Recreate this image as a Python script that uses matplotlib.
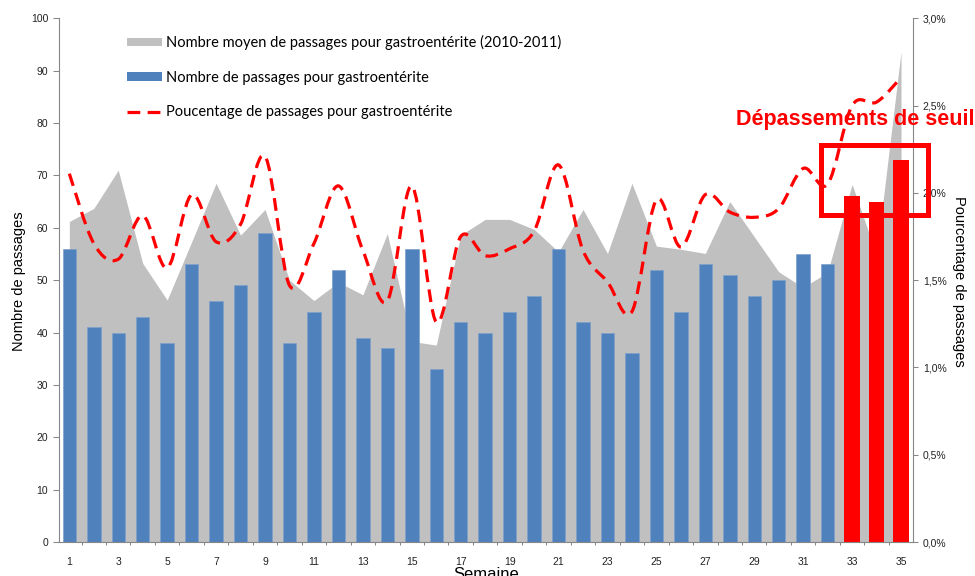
import numpy as np
import matplotlib.pyplot as plt
from matplotlib.patches import Patch, PathPatch, Rectangle
from matplotlib.path import Path
from matplotlib.lines import Line2D
from matplotlib.ticker import FuncFormatter, MultipleLocator

plt.rcParams['font.family'] = ['Liberation Sans', 'DejaVu Sans']

# data
weeks = list(range(1, 36))
passages = [56, 41, 40, 43, 38, 53, 46, 49, 59, 38, 44, 52, 39, 37, 56, 33, 42, 40,
            44, 47, 56, 42, 40, 36, 52, 44, 53, 51, 47, 50, 55, 53, 66, 65, 73]
moyenne = [61.2, 63.7, 71.0, 53.2, 46.2, 57.3, 68.5, 58.6, 63.5, 50.0, 46.1, 49.6,
           47.2, 58.9, 38.3, 37.6, 58.6, 61.6, 61.6, 59.7, 55.4, 63.5, 55.1, 68.5,
           56.5, 55.9, 55.1, 65.0, 58.3, 51.6, 48.6, 51.5, 68.3, 54.8, 93.6]
pourcentage = [2.11, 1.71, 1.62, 1.87, 1.57, 1.99, 1.72, 1.82, 2.21, 1.47, 1.71, 2.04,
               1.67, 1.38, 2.04, 1.26, 1.75, 1.64, 1.68, 1.78, 2.16, 1.67, 1.49, 1.32,
               1.96, 1.69, 1.99, 1.89, 1.86, 1.91, 2.14, 2.05, 2.50, 2.52, 2.66]
seuil_weeks = [33, 34, 35]

BLUE = '#4F81BD'
GREY = '#C0C0C0'
RED = '#FF0000'
AXIS = '#868686'


def smooth_path(x, y, k=1 / 6):
    # excel-like smoothed line as cubic bezier segments
    pts = np.column_stack([x, y]).astype(float)
    n = len(pts)
    verts = [pts[0]]
    codes = [Path.MOVETO]
    for i in range(n - 1):
        p0 = pts[max(i - 1, 0)]
        p1 = pts[i]
        p2 = pts[i + 1]
        p3 = pts[min(i + 2, n - 1)]
        verts += [p1 + (p2 - p0) * k, p2 - (p3 - p1) * k, p2]
        codes += [Path.CURVE4] * 3
    return Path(verts, codes)


W, H = 975, 576
fig = plt.figure(figsize=(W / 100, H / 100), dpi=100)
ax = fig.add_axes([59.3 / W, 34 / H, (913 - 59.3) / W, 523.7 / H])

# grey area (average) then bars
ax.fill_between(weeks, moyenne, color=GREY, lw=0, zorder=1)
blue_w = [w for w in weeks if w not in seuil_weeks]
blue_v = [v for w, v in zip(weeks, passages) if w not in seuil_weeks]
red_v = [v for w, v in zip(weeks, passages) if w in seuil_weeks]
ax.bar(blue_w, blue_v, width=0.55, color=BLUE, edgecolor='#7EA0CC', linewidth=0.5, zorder=2)
ax.bar(seuil_weeks, red_v, width=0.63, color=RED, linewidth=0, zorder=2)

ax.set_xlim(0.59, 35.49)
ax.set_ylim(0, 100)
ax.yaxis.set_major_locator(MultipleLocator(10))
ax.set_xticks(weeks[::2])
ax.set_xticks([w + 0.5 for w in weeks[:-1]], minor=True)
ax.tick_params(axis='x', which='major', length=0, pad=10.5, labelsize=7.5, labelcolor='#222222')
ax.tick_params(axis='x', which='minor', length=2.5, color=AXIS, width=0.75)
ax.tick_params(axis='y', length=4, color=AXIS, width=0.75, labelsize=7.5, labelcolor='#222222', pad=4)
for s in ['top', 'right']:
    ax.spines[s].set_visible(False)
for s in ['left', 'bottom']:
    ax.spines[s].set_color(AXIS)
    ax.spines[s].set_linewidth(0.8)

# percentage on the secondary axis
ax2 = ax.twinx()
ax2.set_ylim(0, 3)
ax2.yaxis.set_major_locator(MultipleLocator(0.5))
ax2.yaxis.set_major_formatter(FuncFormatter(lambda v, p: f"{v:.1f}%".replace('.', ',')))
ax2.tick_params(axis='y', length=3.5, color=AXIS, width=0.75, labelsize=7.5, labelcolor='#222222', pad=3.5)
for s in ['top', 'left', 'bottom']:
    ax2.spines[s].set_visible(False)
ax2.spines['right'].set_color(AXIS)
ax2.spines['right'].set_linewidth(0.8)
ax2.add_patch(PathPatch(smooth_path(weeks, pourcentage), fill=False, edgecolor=RED,
                        linewidth=2.3, linestyle=(0, (4, 2.3)), capstyle='butt', zorder=3))

# axis titles
fig.text(19 / W, 1 - 281 / H, 'Nombre de passages', rotation=90, ha='center', va='center', fontsize=10.5)
fig.text(959 / W, 1 - 281 / H, 'Pourcentage de passages', rotation=-90, ha='center', va='center', fontsize=10.5)
fig.text(486 / W, 1 - 579 / H, 'Semaine', ha='center', va='baseline', fontsize=12)

# legend
handles = [Patch(facecolor=GREY, edgecolor='none'),
           Patch(facecolor=BLUE, edgecolor='none'),
           Line2D([], [], color=RED, lw=2.3, linestyle=(0, (4, 2.3)))]
labels = ['Nombre moyen de passages pour gastroentérite (2010-2011)',
          'Nombre de passages pour gastroentérite',
          'Poucentage de passages pour gastroentérite']
ax2.legend(handles, labels, loc='upper left', bbox_to_anchor=(127 / W, 1 - 35 / H),
           bbox_transform=fig.transFigure, frameon=False, borderpad=0, borderaxespad=0,
           prop={'family': 'Lato', 'size': 10.5}, handlelength=2.4, handleheight=0.5,
           handletextpad=0.3, labelspacing=1.42)

# threshold annotation
fig.add_artist(Rectangle((820.8 / W, 1 - 215 / H), (928.2 - 820.8) / W, 70 / H,
                         transform=fig.transFigure, fill=False, edgecolor=RED, linewidth=3.6))
fig.text(855.5 / W, 1 - 125 / H, 'Dépassements de seuil', ha='center', va='baseline',
         color=RED, fontsize=15.5, fontweight='bold')

fig.savefig('out.png', dpi=100)
